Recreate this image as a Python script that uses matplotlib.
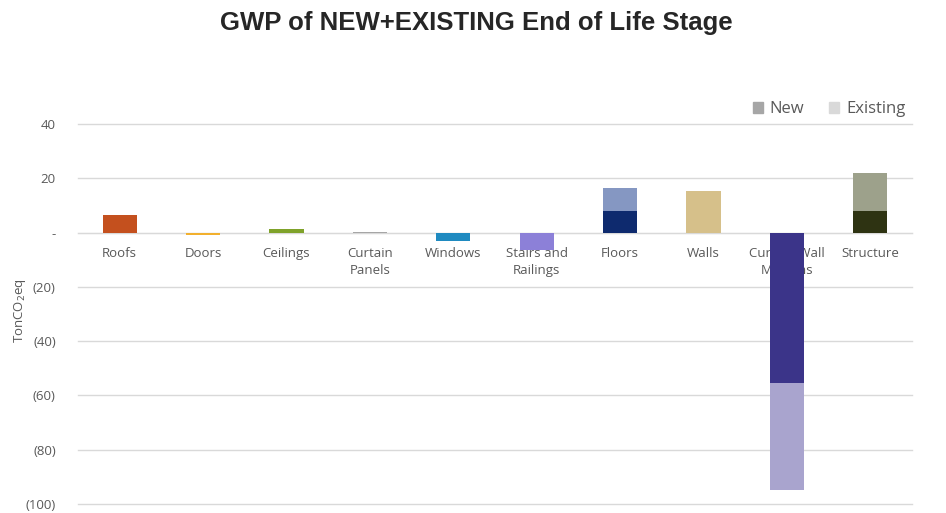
import numpy as np
import matplotlib
matplotlib.use("Agg")
from matplotlib import pyplot as plt
from matplotlib.patches import Patch

# data
categories = ["Roofs", "Doors", "Ceilings", "Curtain\nPanels", "Windows",
              "Stairs and\nRailings", "Floors", "Walls", "Curtain Wall\nMullions", "Structure"]
new_vals = [6.5, -1.0, 1.5, 0.3, -3.0, -6.5, 8.0, 15.5, -55.5, 8.0]
existing_vals = [0, 0, 0, 0, 0, 0, 8.5, 0, -39.5, 14.0]

new_colors = ["#C4501E", "#F2B02E", "#7FA22A", "#A6A6A6", "#1F8AC0",
              "#8C80D8", "#0E2A6E", "#D6C08A", "#3B3489", "#2E3312"]
exist_colors = ["#E0A080", "#F8D890", "#BCD08C", "#D0D0D0", "#8CC4E0",
                "#C4BEEC", "#8597C2", "#E8DCB8", "#A9A4CE", "#9DA18B"]

yticks = [40, 20, 0, -20, -40, -60, -80, -100]

def acct(v):
    if v == 0:
        return "-"
    if v < 0:
        return "(%d)" % abs(v)
    return "%d" % v

plt.rcParams['font.family'] = ['Open Sans', 'DejaVu Sans']

fig = plt.figure(figsize=(9.46, 5.13), dpi=100)
ax = fig.add_axes([0.0825, 0.0175, 0.8815, 0.7405])

x = np.arange(len(categories))
w = 0.41
new_arr = np.array(new_vals)
ex_arr = np.array(existing_vals)
ax.bar(x, new_arr, w, color=new_colors, zorder=3)
ax.bar(x, ex_arr, w, bottom=new_arr, color=exist_colors, zorder=3)

ax.set_xlim(-0.5, len(categories) - 0.5)
ax.set_ylim(-100, 40)
ax.set_yticks(yticks)
ax.set_yticklabels([acct(v) for v in yticks])
ax.grid(axis="y", color="#D9D9D9", linewidth=1, zorder=0)
for gl in ax.get_ygridlines():
    gl.set_clip_on(False)

for s in ["top", "right", "left"]:
    ax.spines[s].set_visible(False)
ax.spines["bottom"].set_position(("data", 0))
ax.spines["bottom"].set_color("#D9D9D9")
ax.set_xticks(x)
ax.set_xticklabels(categories, fontsize=9.5, color="#595959", linespacing=1.45)
ax.tick_params(axis="x", length=0, pad=10)
ax.tick_params(axis="y", length=0, labelsize=9.5, labelcolor="#595959", pad=16)

ax.set_ylabel("TonCO$_2$eq", fontsize=9.5, color="#595959")
ax.yaxis.set_label_coords(-0.06, 0.51)

fig.suptitle("GWP of NEW+EXISTING End of Life Stage", x=0.503, y=0.978,
             fontsize=18.5, fontweight="bold", color="#262626",
             family=["Liberation Sans", "DejaVu Sans"])

handles = [Patch(color="#A6A6A6", label="New"), Patch(color="#D9D9D9", label="Existing")]
ax.legend(handles=handles, loc="lower right", bbox_to_anchor=(1.0, 1.0), ncol=2,
          frameon=False, fontsize=12, labelcolor="#595959", handlelength=0.6,
          handleheight=0.6, columnspacing=1.5, handletextpad=0.4, borderaxespad=0.0)

fig.savefig("out.png")
